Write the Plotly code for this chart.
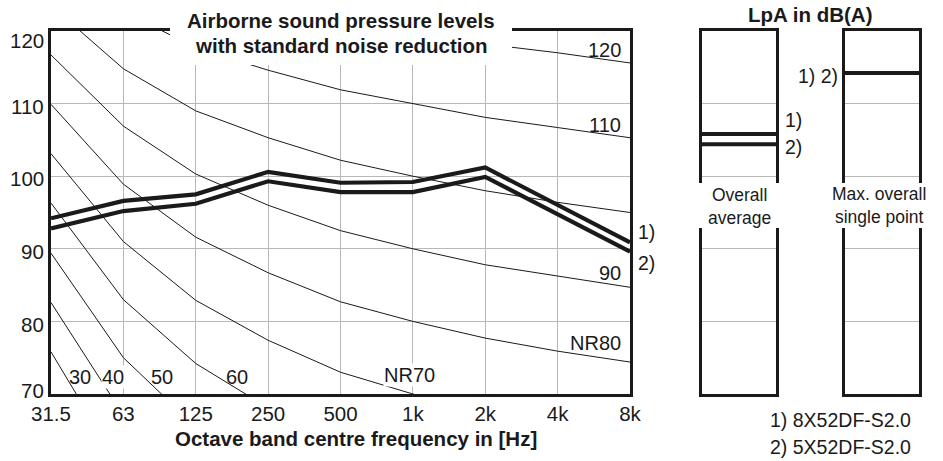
import plotly.graph_objects as go

W, H = 943, 461

# ---------------- data ----------------
bands = ["31.5", "63", "125", "250", "500", "1k", "2k", "4k", "8k"]

# Noise-rating (NR) reference curves, dB per octave band
NR30 = [75.8, 59.2, 48.1, 40.0, 34.0, 30.0, 26.9, 24.7, 22.9]
NR40 = [82.6, 67.1, 56.8, 49.6, 43.8, 40.0, 37.1, 34.9, 33.2]
NR50 = [89.4, 75.0, 65.5, 58.8, 53.5, 50.0, 47.2, 45.2, 43.5]
NR60 = [96.3, 83.0, 74.2, 68.1, 63.2, 60.0, 57.4, 55.4, 53.8]
NR70 = [103.1, 91.0, 82.9, 77.4, 73.0, 70.0, 67.5, 65.7, 64.1]
NR80 = [109.9, 98.9, 91.6, 86.7, 82.7, 80.0, 77.7, 75.9, 74.4]
NR90 = [116.7, 106.9, 100.3, 96.0, 92.5, 90.0, 87.8, 86.2, 84.7]
NR100 = [123.5, 114.8, 109.0, 105.3, 102.2, 100.0, 98.0, 96.4, 95.0]
NR110 = [130.3, 122.7, 117.7, 114.6, 111.9, 110.0, 108.1, 106.7, 105.3]
NR120 = [137.1, 130.6, 126.4, 123.9, 121.7, 120.0, 118.2, 117.0, 115.6]
nr_curves = [NR30, NR40, NR50, NR60, NR70, NR80, NR90, NR100, NR110, NR120]

# measured octave-band levels
series_1 = [94.2, 96.6, 97.5, 100.6, 99.1, 99.2, 101.2, 96.0, 90.9]  # 8X52DF-S2.0
series_2 = [92.8, 95.2, 96.2, 99.3, 97.8, 97.8, 99.9, 94.7, 89.6]    # 5X52DF-S2.0

# LpA in dB(A)
overall_average = [105.8, 104.4]   # 1), 2)
max_single_point = [114.2, 114.2]  # 1), 2)

y_ticks = [70, 80, 90, 100, 110, 120]
y_tick_shift = [4, -3.5, -3, -2.5, -2.5, -9]

# NR labels: (text, x-index, dB, anchor)
nr_labels = [
    ("30", 0.40, 72.4, "center"),
    ("40", 0.86, 72.4, "center"),
    ("50", 1.53, 72.4, "center"),
    ("60", 2.57, 72.4, "center"),
    ("NR70", 4.96, 72.6, "center"),
    ("NR80", 7.90, 77.0, "right"),
    ("90", 7.90, 86.7, "right"),
    ("110", 7.90, 107.0, "right"),
    ("120", 7.90, 117.4, "right"),
]


def px(x):
    return x / W


def py(y):
    return 1 - y / H


FONT = "Liberation Sans, Arial, sans-serif"
BLACK = "#1a1a1a"
GRID = "#b8b8b8"
x_idx = list(range(len(bands)))

fig = go.Figure()

for c in nr_curves:
    fig.add_trace(go.Scatter(x=x_idx, y=c, mode="lines",
                             line=dict(color=BLACK, width=1), hoverinfo="skip",
                             showlegend=False, xaxis="x", yaxis="y"))
for s in (series_1, series_2):
    fig.add_trace(go.Scatter(x=x_idx, y=s, mode="lines",
                             line=dict(color=BLACK, width=4.2), showlegend=False,
                             xaxis="x", yaxis="y"))

for v in overall_average:
    fig.add_trace(go.Scatter(x=[0, 1], y=[v, v], mode="lines",
                             line=dict(color=BLACK, width=4), showlegend=False,
                             xaxis="x2", yaxis="y2"))
fig.add_trace(go.Scatter(x=[0, 1], y=[max_single_point[0]] * 2, mode="lines",
                         line=dict(color=BLACK, width=4), showlegend=False,
                         xaxis="x3", yaxis="y3"))

y_common = dict(range=[70, 120], tickvals=y_ticks, showticklabels=False,
                showgrid=True, gridcolor=GRID, gridwidth=1, zeroline=False,
                showline=True, linecolor=BLACK, linewidth=2.5, mirror=True,
                ticks="", automargin=False)
x_box = dict(range=[0, 1], showgrid=False, showticklabels=False,
             zeroline=False, showline=True, linecolor=BLACK, linewidth=2.5,
             mirror=True, ticks="", automargin=False)

fig.update_layout(
    width=W, height=H, margin=dict(l=0, r=0, t=0, b=0, pad=0),
    autosize=False,
    paper_bgcolor="white", plot_bgcolor="white",
    font=dict(family=FONT, color=BLACK),
    xaxis=dict(domain=[px(51), px(630)], range=[0, 8], tickvals=x_idx,
               ticktext=bands, showgrid=True, gridcolor=GRID, gridwidth=1,
               zeroline=False, showline=True, linecolor=BLACK, linewidth=2.5,
               mirror=True, ticks="", ticklabelstandoff=0, automargin=False,
               tickfont=dict(size=20.5, family=FONT, color=BLACK)),
    yaxis=dict(domain=[py(394), py(31)], **y_common),
    xaxis2=dict(domain=[px(702), px(776)], **x_box),
    yaxis2=dict(domain=[py(394), py(31)], anchor="x2", **y_common),
    xaxis3=dict(domain=[px(845), px(919)], **x_box),
    yaxis3=dict(domain=[py(394), py(31)], anchor="x3", **y_common),
    showlegend=False,
)

# white boxes that interrupt the frame
fig.add_shape(type="rect", xref="paper", yref="paper",
              x0=px(170), x1=px(512), y0=py(65), y1=1.0,
              fillcolor="white", line=dict(width=0), layer="above")
fig.add_shape(type="rect", xref="paper", yref="paper",
              x0=px(695), x1=px(930), y0=py(228), y1=py(183),
              fillcolor="white", line=dict(width=0), layer="above")

ann = []
# titles
ann.append(dict(text="<b>Airborne sound pressure levels</b>", x=px(341), y=py(20)))
ann.append(dict(text="<b>with standard noise reduction</b>", x=px(341), y=py(45)))
ann.append(dict(text="<b>Octave band centre frequency in [Hz]</b>", x=px(356), y=py(438)))
ann.append(dict(text="<b>LpA in dB(A)</b>", x=px(810), y=py(15)))
for a in ann:
    a.update(xref="paper", yref="paper", showarrow=False, xanchor="center",
             yanchor="middle", font=dict(size=20.5, family=FONT, color=BLACK))

# y tick labels
for v, sh in zip(y_ticks, y_tick_shift):
    ann.append(dict(text=str(v), xref="paper", yref="y", x=px(46), y=v, yshift=sh,
                    xanchor="right", yanchor="middle", showarrow=False,
                    font=dict(size=20.5, family=FONT, color=BLACK)))

# NR labels
for t, xi, yv, anc in nr_labels:
    d = dict(text=t, xref="x", yref="y", x=xi, y=yv, xanchor=anc,
             yanchor="middle", showarrow=False,
             font=dict(size=20, family=FONT, color=BLACK))
    if t in ("NR70", "40"):
        d.update(bgcolor="white", borderpad=0)
    ann.append(d)

# series markers at 8k
small = dict(size=19.5, family=FONT, color=BLACK)
ann.append(dict(text="1)", xref="paper", yref="paper", x=px(636), y=py(232),
                xanchor="left", yanchor="middle", showarrow=False, font=small))
ann.append(dict(text="2)", xref="paper", yref="paper", x=px(636), y=py(263),
                xanchor="left", yanchor="middle", showarrow=False, font=small))

# right panel labels
ann.append(dict(text="1)", xref="paper", yref="paper", x=px(783), y=py(120),
                xanchor="left", yanchor="middle", showarrow=False, font=small))
ann.append(dict(text="2)", xref="paper", yref="paper", x=px(783), y=py(147),
                xanchor="left", yanchor="middle", showarrow=False, font=small))
ann.append(dict(text="1) 2)", xref="paper", yref="paper", x=px(840), y=py(76),
                xanchor="right", yanchor="middle", showarrow=False, font=small))
lab = dict(size=17.5, family=FONT, color=BLACK)
ann.append(dict(text="Overall<br>average", xref="paper", yref="paper", x=px(739),
                y=py(206), xanchor="center", yanchor="middle", showarrow=False,
                font=lab))
ann.append(dict(text="Max. overall<br>single point", xref="paper", yref="paper",
                x=px(879), y=py(205), xanchor="center", yanchor="middle",
                showarrow=False, font=lab))
ann.append(dict(text="1) 8X52DF-S2.0", xref="paper", yref="paper", x=px(768),
                y=py(420), xanchor="left", yanchor="middle", showarrow=False,
                font=small))
ann.append(dict(text="2) 5X52DF-S2.0", xref="paper", yref="paper", x=px(768),
                y=py(447), xanchor="left", yanchor="middle", showarrow=False,
                font=small))

fig.update_layout(annotations=ann)

fig.write_html("out.html", config={"displayModeBar": False},
               post_script="document.body.style.margin='0';")
